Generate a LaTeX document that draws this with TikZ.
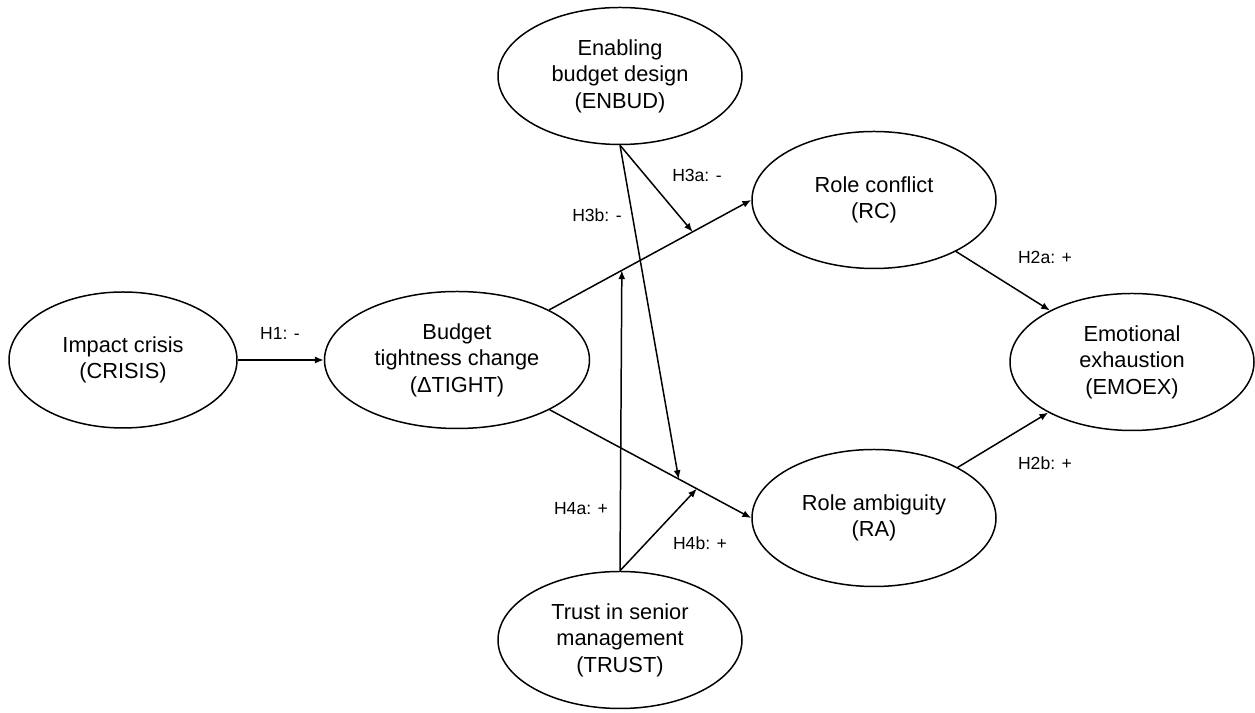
\documentclass[tikz,border=0pt]{standalone}
\usepackage{fontspec}
\setmainfont{Liberation Sans}
\usetikzlibrary{arrows.meta, shapes.geometric, positioning}
\tikzset{
    latentVar/.style={ellipse, draw, line width=0.85pt, inner sep=0pt, minimum width=4.88cm, minimum height=2.74cm, align=center, font=\fontsize{12.4}{15.1}\selectfont},
    pathEdge/.style={->, >={Latex[length=5pt, width=4pt]}, line width=0.85pt},
    hypLabel/.style={font=\fontsize{10}{12}\selectfont, inner sep=1pt},
}

\begin{document}
\begin{tikzpicture}
        \useasboundingbox (0,0) rectangle (25.1,14.26);

        % constructs
        \node[latentVar, minimum width=4.56cm, minimum height=2.72cm] (CRISIS) at (2.46,7.06) {Impact crisis\\(CRISIS)};
        \node[latentVar, minimum width=5.3cm] (TIGHT) at (9.14,7.06) {Budget\\tightness change\\(ΔTIGHT)};
        \node[latentVar] (ENBUD) at (12.4,12.74) {Enabling\\budget design\\(ENBUD)};
        \node[latentVar] (TRUST) at (12.4,1.46) {Trust in senior\\management\\(TRUST)};
        \node[latentVar] (RC) at (17.48,10.26) {Role conflict\\(RC)};
        \node[latentVar] (RA) at (17.48,3.9) {Role ambiguity\\(RA)};
        \node[latentVar] (EMOEX) at (22.64,7.02) {Emotional\\exhaustion\\(EMOEX)};

        % direct paths
        \draw[pathEdge] (CRISIS) -- (TIGHT);
        \draw[pathEdge] (TIGHT) -- coordinate[pos=0.36] (rcTrust) coordinate[pos=0.71] (rcBud) (RC.west);
        \draw[pathEdge] (TIGHT) -- coordinate[pos=0.64] (raBud) coordinate[pos=0.73] (raTrust) (RA.west);
        \draw[pathEdge] (RC) -- (EMOEX);
        \draw[pathEdge] (RA) -- (EMOEX);

        % moderators
        \draw[pathEdge] (ENBUD.south) -- (rcBud);
        \draw[pathEdge] (ENBUD.south) -- (raBud);
        \draw[pathEdge] (TRUST.north) -- (rcTrust);
        \draw[pathEdge] (TRUST.north) -- (raTrust);

        % hypotheses
        \node[hypLabel] (h1) at (5.6,7.6) {H1: -};
        \node[hypLabel] (h2a) at (20.9,9.12) {H2a: +};
        \node[hypLabel] (h2b) at (20.9,5.0) {H2b: +};
        \node[hypLabel] (h3a) at (13.94,10.76) {H3a: -};
        \node[hypLabel] (h3b) at (11.94,9.96) {H3b: -};
        \node[hypLabel] (h4a) at (11.62,4.08) {H4a: +};
        \node[hypLabel] (h4b) at (14.0,3.4) {H4b: +};

    \end{tikzpicture}
\end{document}
